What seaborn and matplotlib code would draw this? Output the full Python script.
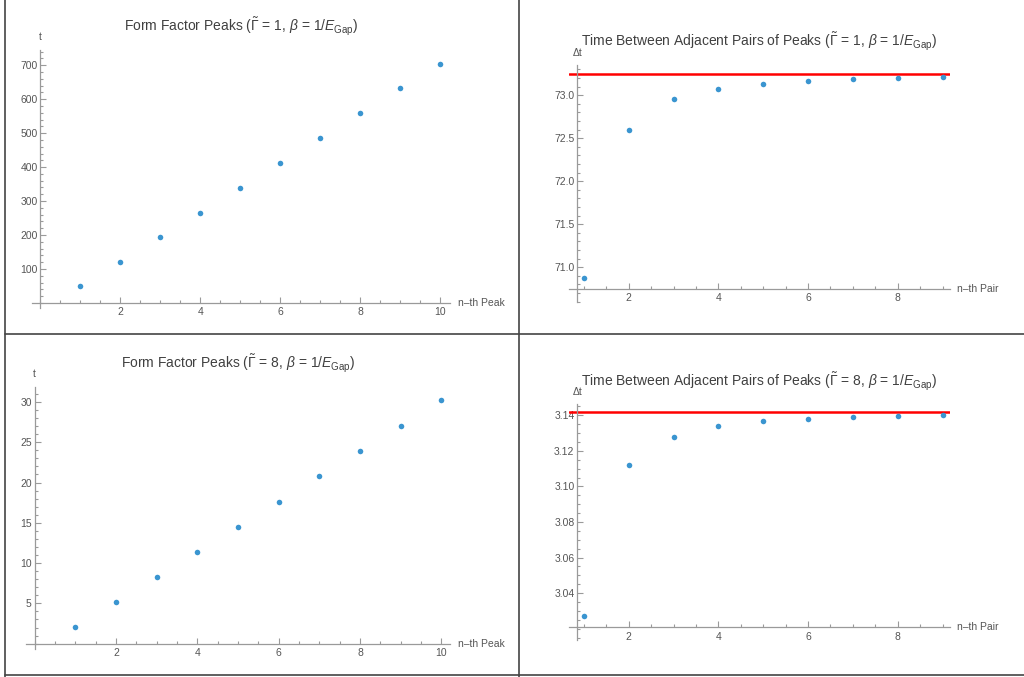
import matplotlib
matplotlib.use("Agg")
import matplotlib.pyplot as plt
import matplotlib.transforms as mtransforms
from matplotlib.lines import Line2D
from matplotlib.ticker import MultipleLocator, FormatStrFormatter
import seaborn as sns
import pandas as pd

# data
peak_n = [1, 2, 3, 4, 5, 6, 7, 8, 9, 10]
peaks_g1 = [49.6, 120.5, 193.1, 266.0, 339.1, 412.3, 485.5, 558.6, 631.8, 705.0]
peaks_g8 = [2.10, 5.15, 8.26, 11.38, 14.51, 17.64, 20.77, 23.92, 27.06, 30.19]

pair_n = [1, 2, 3, 4, 5, 6, 7, 8, 9]
gaps_g1 = [70.88, 72.60, 72.95, 73.07, 73.135, 73.165, 73.185, 73.20, 73.21]
gaps_g8 = [3.027, 3.112, 3.128, 3.134, 3.1366, 3.1381, 3.1391, 3.1396, 3.1400]
limit_g1 = 73.24
limit_g8 = 3.1416

peak_ticks = [2, 4, 6, 8, 10]
pair_ticks = [2, 4, 6, 8]

sns.set_theme(style="white")
plt.rcParams["font.family"] = ["Liberation Sans", "DejaVu Sans"]
plt.rcParams["mathtext.fontset"] = "custom"
plt.rcParams["mathtext.rm"] = "Liberation Sans"
plt.rcParams["mathtext.it"] = "Liberation Sans:italic"

dot_color = "#3a95d0"
axis_color = "#9a9a9a"
label_color = "#555555"
title_color = "#404040"

W, H = 1024, 677
fig = plt.figure(figsize=(W / 100, H / 100), dpi=100)


def px_axes(left, right, top, bottom):
    return fig.add_axes([left / W, 1 - bottom / H, (right - left) / W, (bottom - top) / H])


def title_for(kind, g):
    if kind == "peak":
        head = "Form Factor Peaks"
    else:
        head = "Time Between Adjacent Pairs of Peaks"
    return head + r" ($\tilde{\Gamma}$ = " + str(g) + r", $\beta$ = 1/$E_{\mathrm{Gap}}$)"


def style_axes(ax, x0, y0, xlim, ylim, xticks, ymajor, yminor, yfmt, ylab, xlab):
    ax.set_xlim(*xlim)
    ax.set_ylim(*ylim)
    for s in ["top", "right"]:
        ax.spines[s].set_visible(False)
    ax.spines["left"].set_position(("data", x0))
    ax.spines["bottom"].set_position(("data", y0))
    for s in ["left", "bottom"]:
        ax.spines[s].set_color(axis_color)
        ax.spines[s].set_linewidth(0.9)
    ax.set_xticks(xticks)
    ax.xaxis.set_minor_locator(MultipleLocator(0.5))
    ax.yaxis.set_major_locator(MultipleLocator(ymajor))
    ax.yaxis.set_minor_locator(MultipleLocator(yminor))
    ax.yaxis.set_major_formatter(FormatStrFormatter(yfmt))
    ax.tick_params(which="both", direction="in", color=axis_color, width=0.8,
                   labelsize=7.5, labelcolor=label_color, bottom=True, left=True)
    ax.tick_params(which="major", length=4)
    ax.tick_params(which="minor", length=2.2)
    ax.tick_params(axis="x", pad=3)
    ax.tick_params(axis="y", pad=2)
    # keep only labelled ticks above the x axis and inside the view
    yt = [v for v in ax.get_yticks() if y0 + ymajor * 0.1 < v < ylim[1]]
    ax.set_yticks(yt)
    ax.set_xlabel("")
    ax.set_ylabel("")
    tr_y = mtransforms.blended_transform_factory(ax.transData, ax.transAxes)
    ax.text(x0, 1.03, ylab, transform=tr_y, ha="center", va="bottom",
            fontsize=7.5, color=label_color)
    tr_x = mtransforms.blended_transform_factory(ax.transAxes, ax.transData)
    ax.text(1.02, y0, xlab, transform=tr_x, ha="left", va="center",
            fontsize=7.5, color=label_color)


df_g1 = pd.DataFrame({"n": peak_n, "t": peaks_g1})
df_g8 = pd.DataFrame({"n": peak_n, "t": peaks_g8})
dg_g1 = pd.DataFrame({"n": pair_n, "dt": gaps_g1})
dg_g8 = pd.DataFrame({"n": pair_n, "dt": gaps_g8})

# top left
ax1 = px_axes(31.7, 450, 50, 308)
sns.scatterplot(data=df_g1, x="n", y="t", ax=ax1, color=dot_color, s=16, linewidth=0)
style_axes(ax1, 0, 0, (-0.22, 10.25), (-15, 745), peak_ticks, 100, 20, "%d", "t", "n\u2013th Peak")
ax1.set_title(title_for("peak", 1), fontsize=10, color=title_color, pad=13)

# top right
ax2 = px_axes(568.7, 949.7, 65, 301.7)
ax2.axhline(limit_g1, color="red", lw=1.8)
sns.scatterplot(data=dg_g1, x="n", y="dt", ax=ax2, color=dot_color, s=16, linewidth=0, zorder=3)
style_axes(ax2, 0.85, 70.75, (0.66, 9.16), (70.6, 73.35), pair_ticks, 0.5, 0.1, "%.1f",
           "\u0394t", "n\u2013th Pair")
ax2.set_title(title_for("pair", 1), fontsize=10, color=title_color, pad=13)

# bottom left
ax3 = px_axes(26, 450, 387, 649.3)
sns.scatterplot(data=df_g8, x="n", y="t", ax=ax3, color=dot_color, s=16, linewidth=0)
style_axes(ax3, 0, 0, (-0.21, 10.21), (-0.7, 31.86), peak_ticks, 5, 1, "%d", "t", "n\u2013th Peak")
ax3.set_title(title_for("peak", 8), fontsize=10, color=title_color, pad=13)

# bottom right
ax4 = px_axes(568.7, 949.7, 404.3, 640)
ax4.axhline(limit_g8, color="red", lw=1.8)
sns.scatterplot(data=dg_g8, x="n", y="dt", ax=ax4, color=dot_color, s=16, linewidth=0, zorder=3)
style_axes(ax4, 0.85, 3.0207, (0.66, 9.16), (3.0136, 3.1462), pair_ticks, 0.02, 0.005, "%.2f",
           "\u0394t", "n\u2013th Pair")
ax4.set_title(title_for("pair", 8), fontsize=10, color=title_color, pad=13)

# grid frame lines between the cells
frame = dict(color="#444444", lw=1.2, transform=fig.transFigure)
fig.add_artist(Line2D([4.5 / W, 4.5 / W], [0, 1], **frame))
fig.add_artist(Line2D([518.5 / W, 518.5 / W], [0, 1], **frame))
fig.add_artist(Line2D([4.5 / W, 1], [1 - 334 / H, 1 - 334 / H], **frame))
fig.add_artist(Line2D([4.5 / W, 1], [1 - 675 / H, 1 - 675 / H], **frame))

fig.savefig("out.png", dpi=100, facecolor="white")
